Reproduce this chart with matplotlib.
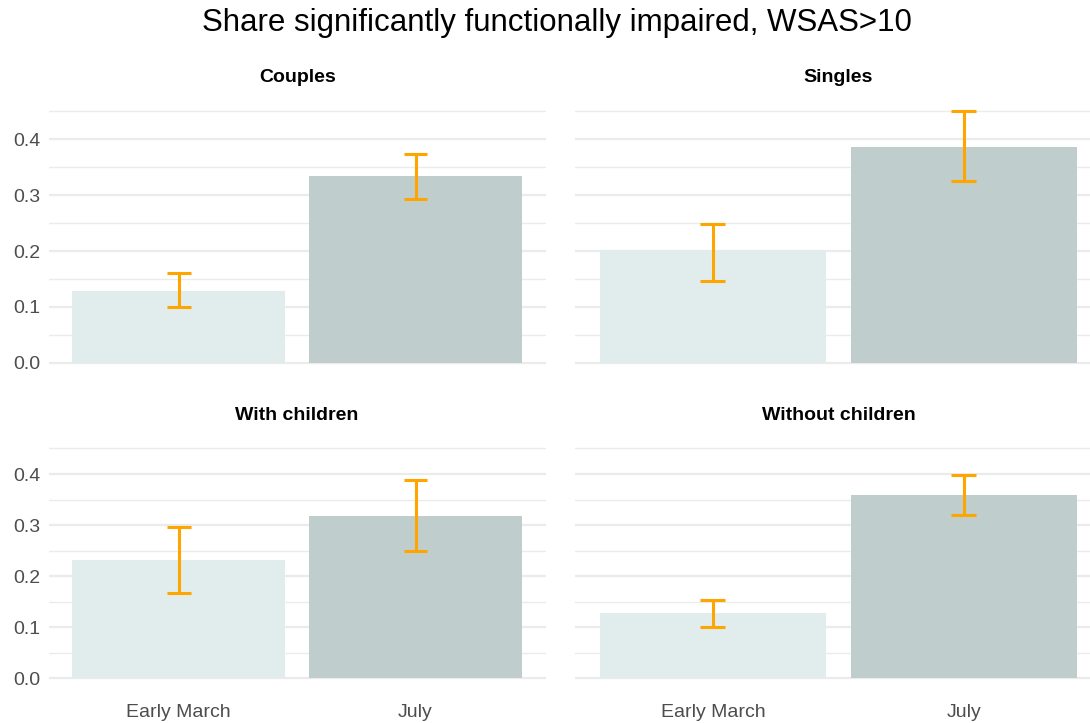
import matplotlib
matplotlib.use("Agg")
import matplotlib.pyplot as plt
from matplotlib.ticker import MultipleLocator

plt.rcParams['font.family'] = ['Liberation Sans', 'DejaVu Sans']

# data
periods = ["Early March", "July"]
panels = ["Couples", "Singles", "With children", "Without children"]
share = [[0.129, 0.334], [0.201, 0.387], [0.231, 0.317], [0.127, 0.359]]
lower = [[0.100, 0.294], [0.147, 0.326], [0.168, 0.249], [0.101, 0.320]]
upper = [[0.160, 0.374], [0.249, 0.450], [0.296, 0.388], [0.154, 0.398]]

bar_colors = ["#E0EDEC", "#C0CDCD"]
err_color = "#FFA500"
grid_color = "#EBEBEB"
text_grey = "#4D4D4D"

W, H = 1090, 723
fig = plt.figure(figsize=(W / 100, H / 100), dpi=100)

# panel boxes in pixels: (left, right, top, bottom)
cols = [(48.6, 545.7), (574.9, 1102.0)]
rows = [(98.8, 375.3), (437.0, 689.8)]

x = [1, 2]
for k, name in enumerate(panels):
    r, c = divmod(k, 2)
    l, rgt = cols[c]
    top, bot = rows[r]
    ax = fig.add_axes([l / W, 1 - bot / H, (rgt - l) / W, (bot - top) / H])
    ax.set_xlim(0.45, 2.55)
    ax.set_ylim(-0.0225, 0.4725)

    ax.bar(x, share[k], width=0.9, color=bar_colors, zorder=2)
    ax.vlines(x, lower[k], upper[k], color=err_color, lw=2.2, zorder=3)
    for xi, lo, hi in zip(x, lower[k], upper[k]):
        ax.hlines([lo, hi], xi - 0.05, xi + 0.05, color=err_color, lw=2.2, zorder=3)

    ax.yaxis.set_major_locator(MultipleLocator(0.1))
    ax.yaxis.set_minor_locator(MultipleLocator(0.05))
    ax.grid(axis='y', which='major', color=grid_color, lw=1.6, zorder=0)
    ax.grid(axis='y', which='minor', color=grid_color, lw=1.0, zorder=0)
    ax.set_axisbelow(True)
    for s in ax.spines.values():
        s.set_visible(False)
    ax.tick_params(which='both', length=0, labelsize=14, labelcolor=text_grey)

    if c == 0:
        ax.set_yticks([0.0, 0.1, 0.2, 0.3, 0.4])
        ax.set_yticklabels(["0.0", "0.1", "0.2", "0.3", "0.4"])
        ax.tick_params(axis='y', pad=6)
    else:
        ax.set_yticklabels([])
    if r == 1:
        ax.set_xticks(x)
        ax.set_xticklabels(periods)
        ax.tick_params(axis='x', pad=10)
    else:
        ax.set_xticks([])

    ax.text(0.5, 1.0 + (21.0 / (bot - top)), name, transform=ax.transAxes,
            ha='center', va='center', fontsize=14, fontweight='bold', color='black')

fig.text(556.5 / W, 1 - 23 / H, "Share significantly functionally impaired, WSAS>10",
         ha='center', va='center', fontsize=22.5)

fig.savefig("out.png", dpi=100)
